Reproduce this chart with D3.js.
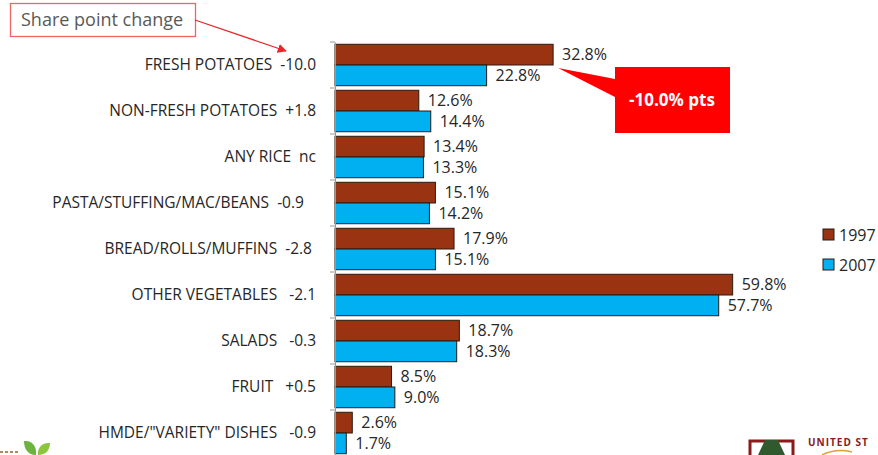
<!DOCTYPE html>
<html>
<head>
<meta charset="utf-8">
<script src="https://cdn.jsdelivr.net/npm/d3@7"></script>
<style>
  body { margin: 0; background: #fff; }
  text { font-family: "Open Sans", sans-serif; }
</style>
</head>
<body>
<div id="chart"></div>
<script>
const categories = [
    "FRESH POTATOES  -10.0",
    "NON-FRESH POTATOES  +1.8",
    "ANY RICE  nc",
    "PASTA/STUFFING/MAC/BEANS  -0.9   ",
    "BREAD/ROLLS/MUFFINS  -2.8 ",
    "OTHER VEGETABLES   -2.1",
    "SALADS   -0.3",
    "FRUIT   +0.5",
    "HMDE/\"VARIETY\" DISHES   -0.9"
];
const series = ["1997", "2007"];
const values1997 = [32.8, 12.6, 13.4, 15.1, 17.9, 59.8, 18.7, 8.5, 2.6];
const values2007 = [22.8, 14.4, 13.3, 14.2, 15.1, 57.7, 18.3, 9.0, 1.7];
const colors = ["#993312", "#00b0f0"];

const width = 878, height = 455;
const margin = { top: 42, left: 335 };

const svg = d3.select("#chart").append("svg")
    .attr("width", width)
    .attr("height", height);

const x = d3.scaleLinear().domain([0, 100]).range([margin.left, margin.left + 665]);
const y = d3.scaleBand().domain(categories).range([margin.top, margin.top + 46 * categories.length]);
const inner = d3.scaleBand().domain(series).range([0, y.bandwidth()]).paddingOuter(0.11);

const rows = categories.map((c, i) => ({ cat: c, vals: [values1997[i], values2007[i]] }));

// bars
const g = svg.append("g").selectAll("g").data(rows).join("g")
    .attr("transform", d => `translate(0,${y(d.cat)})`);

g.selectAll("rect").data(d => d.vals).join("rect")
    .attr("x", x(0))
    .attr("y", (v, i) => inner(series[i]))
    .attr("width", v => x(v) - x(0))
    .attr("height", inner.bandwidth())
    .attr("fill", (v, i) => colors[i])
    .attr("stroke", "#2a1a10")
    .attr("stroke-width", 1);

g.selectAll("text.val").data(d => d.vals).join("text")
    .attr("class", "val")
    .attr("x", v => x(v) + 9)
    .attr("y", (v, i) => inner(series[i]) + inner.bandwidth() / 2)
    .attr("dy", "0.35em")
    .attr("font-size", 16)
    .attr("fill", "#262626")
    .text(v => v.toFixed(1) + "%");

// axis (spaces kept as non-breaking so the gaps in the labels survive)
const axis = svg.append("g")
    .attr("transform", `translate(${margin.left},0)`)
    .call(d3.axisLeft(y).tickSize(0).tickPadding(19)
        .tickFormat(d => d.replace(/ /g, "\u00a0")));
axis.select(".domain").attr("stroke", "#999");
axis.selectAll(".tick text")
    .attr("font-size", 15.5)
    .attr("font-family", "Open Sans, sans-serif")
    .attr("fill", "#262626");

// boundary tick marks
svg.append("g").selectAll("line")
    .data(categories)
    .join("line")
    .attr("x1", margin.left - 5)
    .attr("x2", margin.left)
    .attr("y1", d => y(d))
    .attr("y2", d => y(d))
    .attr("stroke", "#999");

// legend
const legend = svg.append("g").selectAll("g").data(series).join("g")
    .attr("transform", (d, i) => `translate(823,${229 + i * 30})`);
legend.append("rect")
    .attr("width", 11).attr("height", 11)
    .attr("fill", (d, i) => colors[i])
    .attr("stroke", "#2a1a10");
legend.append("text")
    .attr("x", 16).attr("y", 6).attr("dy", "0.35em")
    .attr("font-size", 16).attr("fill", "#262626")
    .text(d => d);

// "Share point change" note with arrow
svg.append("defs").append("marker")
    .attr("id", "arrow").attr("viewBox", "0 0 10 10")
    .attr("refX", 9).attr("refY", 5)
    .attr("markerWidth", 7).attr("markerHeight", 7)
    .attr("orient", "auto")
    .append("path").attr("d", "M0,0 L10,5 L0,10 z").attr("fill", "#e8262b");

svg.append("rect")
    .attr("x", 10.5).attr("y", 3.5).attr("width", 185).attr("height", 33)
    .attr("fill", "#fff").attr("stroke", "#f06468").attr("stroke-width", 1.3);
svg.append("text")
    .attr("x", 21).attr("y", 20).attr("dy", "0.35em")
    .attr("font-size", 18).attr("fill", "#595959")
    .attr("font-family", "Liberation Sans, Arial, sans-serif")
    .text("Share point change");
svg.append("line")
    .attr("x1", 195).attr("y1", 20).attr("x2", 286).attr("y2", 51)
    .attr("stroke", "#e8262b").attr("stroke-width", 1.3)
    .attr("marker-end", "url(#arrow)");

// red callout
const tipX = x(values1997[0]) + 5, tipY = y(categories[0]) + 26;
svg.append("path")
    .attr("d", `M615,67 L730,67 L730,133 L615,133 L615,97 L${tipX},${tipY} L615,79 Z`)
    .attr("fill", "#ff0000");
svg.append("text")
    .attr("x", 672).attr("y", 100).attr("dy", "0.35em")
    .attr("text-anchor", "middle")
    .attr("font-size", 17).attr("font-weight", "bold")
    .attr("font-family", "Liberation Sans, Arial, sans-serif")
    .attr("fill", "#fff")
    .text("-10.0% pts");

// partial logos at the bottom edge
svg.append("path")
    .attr("d", "M24,441 C32,440 37,446 36,455 C28,455 24,449 24,441 Z")
    .attr("fill", "#6cb33f");
svg.append("path")
    .attr("d", "M50,443 C42,442 37,448 38,455 C46,455 50,450 50,443 Z")
    .attr("fill", "#8cc63f");
svg.append("path")
    .attr("d", "M0,452 L20,452")
    .attr("stroke", "#b08a60").attr("stroke-width", 2).attr("stroke-dasharray", "3,2");
svg.append("path")
    .attr("d", "M750,455 L750,441 L793,441 L793,455")
    .attr("fill", "none").attr("stroke", "#8b1a1a").attr("stroke-width", 3);
svg.append("path")
    .attr("d", "M758,455 L765,440 L778,440 L785,455 Z")
    .attr("fill", "#2e5a2e");
svg.append("path")
    .attr("d", "M822,455 Q836,448 852,452")
    .attr("fill", "none").attr("stroke", "#e0a030").attr("stroke-width", 1.5);
svg.append("text")
    .attr("x", 808).attr("y", 446)
    .attr("font-size", 10).attr("font-weight", "bold")
    .attr("letter-spacing", 1)
    .attr("font-family", "Liberation Serif, serif")
    .attr("fill", "#8b1a1a")
    .text("UNITED ST");
</script>
</body>
</html>
